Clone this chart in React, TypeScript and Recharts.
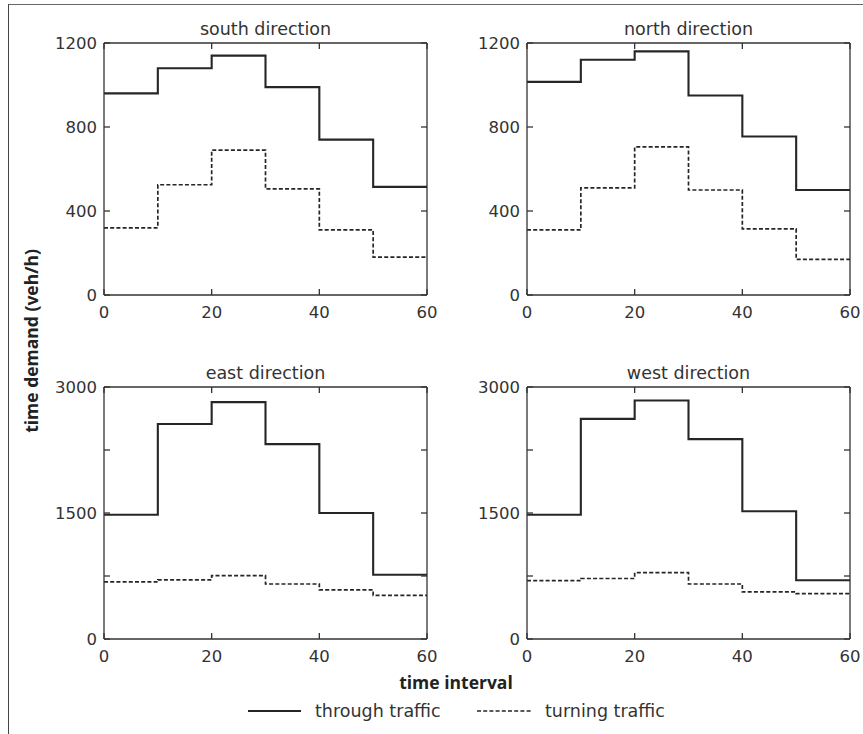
import React from 'react';
import { LineChart, Line, XAxis, YAxis, ReferenceLine } from 'recharts';

const intervalStarts = [0, 10, 20, 30, 40, 50];
const intervalEnd = 60;
const xTicks = [0, 20, 40, 60];

const southThrough = [960, 1080, 1140, 990, 740, 515];
const southTurning = [320, 525, 690, 505, 310, 180];
const northThrough = [1015, 1120, 1160, 950, 755, 500];
const northTurning = [310, 510, 705, 500, 315, 170];
const eastThrough = [1480, 2560, 2820, 2320, 1500, 765];
const eastTurning = [680, 705, 755, 655, 585, 520];
const westThrough = [1480, 2620, 2840, 2380, 1520, 700];
const westTurning = [695, 720, 790, 655, 560, 540];

const topYTicks = [0, 400, 800, 1200];
const topYLabels = [0, 400, 800, 1200];
const bottomYTicks = [0, 750, 1500, 2250, 3000];
const bottomYLabels = [0, 1500, 3000];

const titles = ['south direction', 'north direction', 'east direction', 'west direction'];
const seriesNames = ['through traffic', 'turning traffic'];
const yLabel = 'time demand (veh/h)';
const xLabel = 'time interval';

const INK = '#262626';
const AXIS = '#333';
const TICK_FONT = 'DejaVu Sans';
const TEXT_FONT = 'DejaVu Sans';
const BOLD_FONT = 'Open Sans';
const TICK_LEN = 6;
const TICK_FS = 16.5;

function buildData(through: number[], turning: number[]) {
  const rows = intervalStarts.map((t, i) => ({ t, through: through[i], turning: turning[i] }));
  rows.push({ t: intervalEnd, through: through[through.length - 1], turning: turning[turning.length - 1] });
  return rows;
}

type PanelProps = {
  plotLeft: number;
  plotTop: number;
  plotW: number;
  plotH: number;
  data: any[];
  yMax: number;
  yTicks: number[];
  yLabels: number[];
};

const ML = 60;
const MT = 10;
const MR = 10;
const XH = 30;

function Panel({ plotLeft, plotTop, plotW, plotH, data, yMax, yTicks, yLabels }: PanelProps) {
  const w = plotW + ML + MR;
  const h = plotH + MT + XH;

  const leftTick = (props: any) => {
    const { x, y } = props;
    const v = props.payload.value;
    return (
      <g>
        <line x1={x} x2={x + TICK_LEN} y1={y} y2={y} stroke={AXIS} strokeWidth={1.3} />
        <line x1={x + plotW - TICK_LEN} x2={x + plotW} y1={y} y2={y} stroke={AXIS} strokeWidth={1.3} />
        {yLabels.includes(v) && (
          <text x={x - 7} y={y} dy="0.36em" textAnchor="end" fontFamily={TICK_FONT} fontSize={TICK_FS} fill="#333">
            {String(v)}
          </text>
        )}
      </g>
    );
  };
  const bottomTick = (props: any) => {
    const { x, y } = props;
    const v = props.payload.value;
    return (
      <g>
        <line x1={x} x2={x} y1={y - TICK_LEN} y2={y} stroke={AXIS} strokeWidth={1.3} />
        <line x1={x} x2={x} y1={y - plotH} y2={y - plotH + TICK_LEN} stroke={AXIS} strokeWidth={1.3} />
        <text x={x} y={y + 23} textAnchor="middle" fontFamily={TICK_FONT} fontSize={TICK_FS} fill="#333">
          {String(v)}
        </text>
      </g>
    );
  };

  return (
    <div style={{ position: 'absolute', left: plotLeft - ML, top: plotTop - MT, width: w, height: h }}>
      <LineChart width={w} height={h} data={data} margin={{ top: MT, right: MR, bottom: 0, left: 0 }}>
        <XAxis
          dataKey="t"
          type="number"
          domain={[0, intervalEnd]}
          ticks={xTicks}
          height={XH}
          tick={bottomTick}
          tickSize={0}
          tickMargin={0}
          tickLine={false}
          axisLine={{ stroke: AXIS, strokeWidth: 1.3 }}
          interval={0}
        />
        <YAxis
          type="number"
          domain={[0, yMax]}
          ticks={yTicks}
          width={ML}
          tick={leftTick}
          tickSize={0}
          tickMargin={0}
          tickLine={false}
          axisLine={{ stroke: AXIS, strokeWidth: 1.3 }}
          interval={0}
        />
        <ReferenceLine y={yMax} stroke={AXIS} strokeWidth={1.3} />
        <ReferenceLine x={intervalEnd} stroke={AXIS} strokeWidth={1.3} />
        <Line
          type="stepAfter"
          dataKey="turning"
          stroke={INK}
          strokeWidth={1.7}
          strokeDasharray="4 2.2"
          dot={false}
          activeDot={false}
          isAnimationActive={false}
        />
        <Line
          type="stepAfter"
          dataKey="through"
          stroke={INK}
          strokeWidth={2.1}
          dot={false}
          activeDot={false}
          isAnimationActive={false}
        />
      </LineChart>
    </div>
  );
}

const panels = [
  { left: 104, top: 43, data: buildData(southThrough, southTurning), yMax: 1200, yTicks: topYTicks, yLabels: topYLabels },
  { left: 527, top: 43, data: buildData(northThrough, northTurning), yMax: 1200, yTicks: topYTicks, yLabels: topYLabels },
  { left: 104, top: 387, data: buildData(eastThrough, eastTurning), yMax: 3000, yTicks: bottomYTicks, yLabels: bottomYLabels },
  { left: 527, top: 387, data: buildData(westThrough, westTurning), yMax: 3000, yTicks: bottomYTicks, yLabels: bottomYLabels },
];

const PW = 323;
const PH = 252;

export default function App() {
  return (
    <div style={{ position: 'absolute', left: 0, top: 0, width: 863, height: 734, background: '#fff', overflow: 'hidden' }}>
      <div
        style={{
          position: 'absolute',
          left: 8,
          top: 4,
          width: 860,
          height: 740,
          borderTop: '1.5px solid #666',
          borderLeft: '1.5px solid #444',
        }}
      />
      {panels.map((p, i) => (
        <Panel
          key={i}
          plotLeft={p.left}
          plotTop={p.top}
          plotW={PW}
          plotH={PH}
          data={p.data}
          yMax={p.yMax}
          yTicks={p.yTicks}
          yLabels={p.yLabels}
        />
      ))}
      <svg width={863} height={734} style={{ position: 'absolute', left: 0, top: 0, pointerEvents: 'none' }}>
        {panels.map((p, i) => (
          <text
            key={i}
            x={p.left + PW / 2}
            y={p.top - 8.5}
            textAnchor="middle"
            fontFamily={TEXT_FONT}
            fontSize={17.5}
            fill="#333"
          >
            {titles[i]}
          </text>
        ))}
        <text
          x={38}
          y={341}
          transform="rotate(-90, 38, 341)"
          textAnchor="middle"
          fontFamily={BOLD_FONT}
          fontWeight="bold"
          fontSize={17.5}
          fill="#222"
        >
          {yLabel}
        </text>
        <text x={456} y={689} textAnchor="middle" fontFamily={BOLD_FONT} fontWeight="bold" fontSize={17.5} fill="#222">
          {xLabel}
        </text>
        <line x1={248} x2={301} y1={711} y2={711} stroke={INK} strokeWidth={2.1} />
        <text x={315} y={717} fontFamily={TEXT_FONT} fontSize={17.5} fill="#333">
          {seriesNames[0]}
        </text>
        <line x1={477} x2={532} y1={711} y2={711} stroke={INK} strokeWidth={1.7} strokeDasharray="4 2.2" />
        <text x={545} y={717} fontFamily={TEXT_FONT} fontSize={17.5} fill="#333">
          {seriesNames[1]}
        </text>
      </svg>
    </div>
  );
}
